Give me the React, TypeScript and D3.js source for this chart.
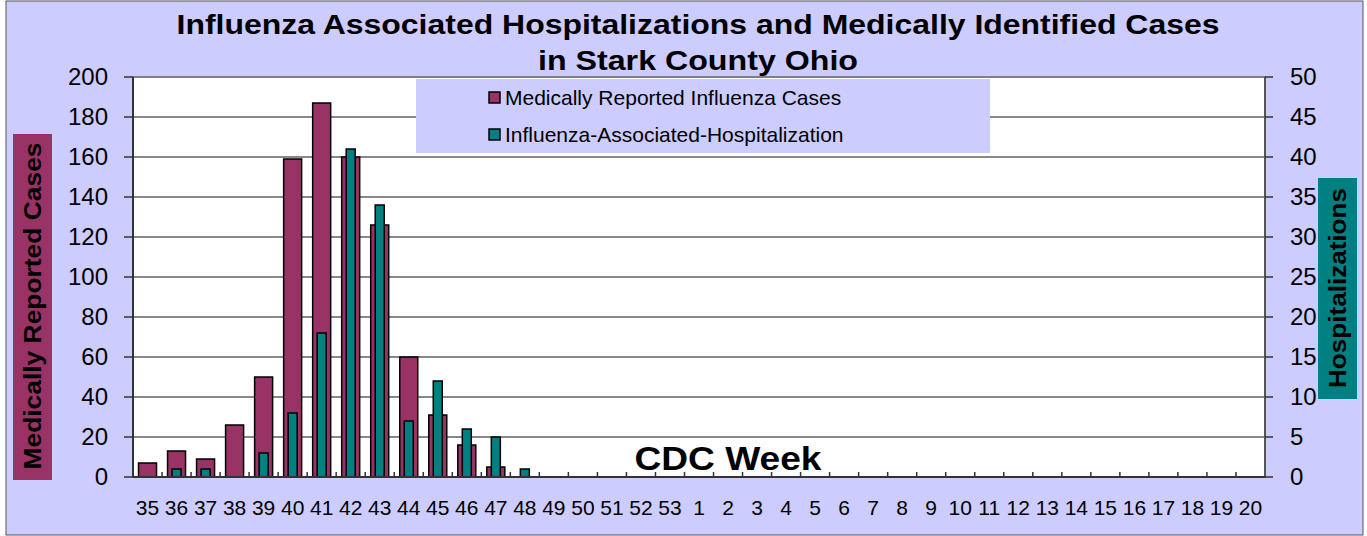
import React from 'react';
import * as d3 from 'd3';

const weeks = [
  '35', '36', '37', '38', '39', '40', '41', '42', '43', '44', '45', '46', '47', '48', '49', '50', '51', '52', '53',
  '1', '2', '3', '4', '5', '6', '7', '8', '9', '10', '11', '12', '13', '14', '15', '16', '17', '18', '19', '20',
];
const cases = [7, 13, 9, 26, 50, 159, 187, 160, 126, 60, 31, 16, 5, 0, 0, 0, 0, 0, 0,
  0, 0, 0, 0, 0, 0, 0, 0, 0, 0, 0, 0, 0, 0, 0, 0, 0, 0, 0, 0];
const hosp = [0, 1, 1, 0, 3, 8, 18, 41, 34, 7, 12, 6, 5, 1, 0, 0, 0, 0, 0,
  0, 0, 0, 0, 0, 0, 0, 0, 0, 0, 0, 0, 0, 0, 0, 0, 0, 0, 0, 0];
const leftTicks = [0, 20, 40, 60, 80, 100, 120, 140, 160, 180, 200];
const rightTicks = [0, 5, 10, 15, 20, 25, 30, 35, 40, 45, 50];

const W = 1367;
const H = 536;
const margin = { top: 77, right: 102, bottom: 59, left: 133 };
const FONT = '"Liberation Sans", Arial, sans-serif';
const PURPLE = '#993366';
const TEAL = '#008080';
const BG = '#CCCCFF';

export default function App() {
  const innerW = W - margin.left - margin.right;
  const innerH = H - margin.top - margin.bottom;
  const x0 = margin.left;
  const x1 = margin.left + innerW;
  const y0 = margin.top + innerH;

  const x = d3.scaleBand<string>().domain(weeks).range([x0, x1]).padding(0);
  const yL = d3.scaleLinear().domain([0, 200]).range([y0, margin.top]);
  const yR = d3.scaleLinear().domain([0, 50]).range([y0, margin.top]);
  const bw = x.bandwidth();
  const caseW = bw * 0.62;
  const hospW = bw * 0.31;

  return (
    <svg width={W} height={H} style={{ position: 'absolute', left: 0, top: 0 }} fontFamily={FONT}>
      <rect x={0} y={0} width={W} height={H} fill="#fff" />
      <rect x={6} y={1} width={1357} height={534} fill={BG} stroke="#555" strokeWidth={1} />

      {/* title, stretched like the original */}
      <text x={698} y={34} textAnchor="middle" fontSize={27} fontWeight="bold"
        textLength={1043} lengthAdjust="spacingAndGlyphs">
        Influenza Associated Hospitalizations and Medically Identified Cases
      </text>
      <text x={698} y={70} textAnchor="middle" fontSize={27} fontWeight="bold"
        textLength={320} lengthAdjust="spacingAndGlyphs">
        in Stark County Ohio
      </text>

      {/* plot area */}
      <rect x={x0} y={margin.top} width={innerW} height={innerH} fill="#fff" stroke="#808080" strokeWidth={2} />

      {leftTicks.slice(1, -1).map(t => (
        <line key={'g' + t} x1={x0} x2={x1} y1={yL(t)} y2={yL(t)} stroke="#111" strokeWidth={1} />
      ))}

      {/* left axis */}
      <line x1={x0} x2={x0} y1={margin.top} y2={y0} stroke="#333" strokeWidth={2} />
      {leftTicks.map(t => (
        <g key={'l' + t}>
          <line x1={x0 - 9} x2={x0} y1={yL(t)} y2={yL(t)} stroke="#333" strokeWidth={1.5} />
          <text x={108} y={yL(t)} dy="0.35em" textAnchor="end" fontSize={24}>{t}</text>
        </g>
      ))}

      {/* right axis */}
      <line x1={x1} x2={x1} y1={margin.top} y2={y0} stroke="#555" strokeWidth={2} />
      {rightTicks.map(t => (
        <g key={'r' + t}>
          <line x1={x1} x2={x1 + 8} y1={yR(t)} y2={yR(t)} stroke="#333" strokeWidth={1.5} />
          <text x={1290} y={yR(t)} dy="0.35em" textAnchor="start" fontSize={24}>{t}</text>
        </g>
      ))}

      {/* legend */}
      <rect x={416} y={79} width={574} height={74} fill={BG} />
      <rect x={489} y={92} width={11} height={11} fill={PURPLE} stroke="#000" strokeWidth={1.5} />
      <text x={505} y={98} dy="0.35em" fontSize={21}>Medically Reported Influenza Cases</text>
      <rect x={489} y={129} width={11} height={11} fill={TEAL} stroke="#000" strokeWidth={1.5} />
      <text x={505} y={135} dy="0.35em" fontSize={21}>Influenza-Associated-Hospitalization</text>

      <text x={728} y={470} textAnchor="middle" fontSize={34} fontWeight="bold"
        textLength={187} lengthAdjust="spacingAndGlyphs">CDC Week</text>

      {/* bars */}
      {weeks.map((w, i) => cases[i] > 0 && (
        <rect key={'c' + w} x={(x(w) || 0) + (bw - caseW) / 2} y={yL(cases[i])} width={caseW}
          height={y0 - yL(cases[i])} fill={PURPLE} stroke="#000" strokeWidth={1.5} />
      ))}
      {weeks.map((w, i) => hosp[i] > 0 && (
        <rect key={'h' + w} x={(x(w) || 0) + (bw - hospW) / 2} y={yR(hosp[i])} width={hospW}
          height={y0 - yR(hosp[i])} fill={TEAL} stroke="#000" strokeWidth={1.5} />
      ))}

      {/* x axis */}
      <line x1={x0} x2={x1} y1={y0} y2={y0} stroke="#333" strokeWidth={2} />
      {weeks.slice(1).map(w => (
        <line key={'t' + w} x1={x(w) || 0} x2={x(w) || 0} y1={y0 - 5} y2={y0} stroke="#333" strokeWidth={1.5} />
      ))}
      {weeks.map(w => (
        <text key={'x' + w} x={(x(w) || 0) + bw / 2} y={515} textAnchor="middle" fontSize={21}>{w}</text>
      ))}

      {/* axis titles */}
      <rect x={13} y={134} width={39} height={346} fill={PURPLE} />
      <text transform="translate(41,306) rotate(-90)" textAnchor="middle" fontSize={23} fontWeight="bold"
        textLength={327} lengthAdjust="spacingAndGlyphs">
        Medically Reported Cases
      </text>
      <rect x={1318} y={178} width={39} height={221} fill={TEAL} />
      <text transform="translate(1346,288) rotate(-90)" textAnchor="middle" fontSize={23} fontWeight="bold"
        textLength={200} lengthAdjust="spacingAndGlyphs">
        Hospitalizations
      </text>
    </svg>
  );
}
